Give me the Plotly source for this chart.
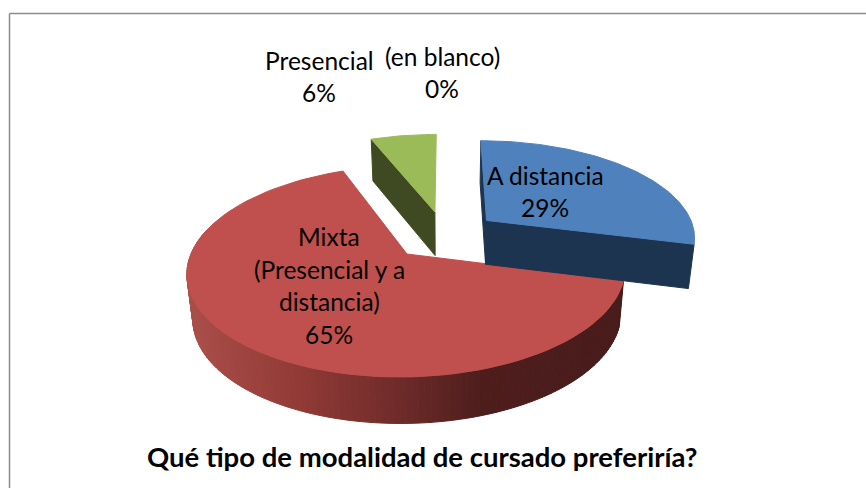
import numpy as np
import plotly.graph_objects as go

categories = ["A distancia", "Mixta (Presencial y a distancia)", "Presencial", "(en blanco)"]
label_lines = [["A distancia", "29%"],
               ["Mixta", "(Presencial y a", "distancia)", "65%"],
               ["Presencial", "6%"],
               ["(en blanco)", "0%"]]
values = [29, 65, 6, 0]
title = "Qué tipo de modalidad de cursado preferiría?"
top_colors = ["#4F81BD", "#C0504D", "#9BBB59", "#8064A2"]
side_colors = ["#1D3450", "#4E1E1C", "#404A22", "#3D2E50"]

# world offsets of each exploded slice (plane units of one radius)
offsets = [(0.203, 0.345), (-0.176, 0.0), (-0.05, 0.438), (0.0, 0.0)]

VX, VY, A, B, P = 445.0, 254.0, 216.0, 102.8, 0.164


def project(X, Y, bottom=False):
    w = 1.0 / (1.0 + P * Y)
    sx = A * X * w
    sy = B * Y * w
    if bottom:
        return VX + 0.977 * sx, VY - sy + (44.5 - 2.0 * Y)
    return VX + sx, VY - sy


def rim(theta, off):
    return off[0] + np.sin(theta), off[1] + np.cos(theta)


def poly(xs, ys, color):
    return go.Scatter(x=list(xs), y=list(ys), mode="lines", fill="toself", fillcolor=color,
                      line=dict(color=color, width=1), hoverinfo="skip", showlegend=False)


total = sum(values)
edges = np.cumsum([0] + values) / total * 2 * np.pi
traces = []
red_stops = [(190, (170, 78, 73)), (300, (145, 58, 54)), (400, (110, 43, 42)),
             (480, (78, 30, 29)), (630, (72, 28, 27))]


def red_rim_color(x):
    xp = [s[0] for s in red_stops]
    rgb = [np.interp(x, xp, [s[1][i] for s in red_stops]) for i in range(3)]
    return "rgb(%d,%d,%d)" % tuple(rgb)


def cut_face(theta, off, color):
    X0, Y0 = off
    X1, Y1 = rim(theta, off)
    pts = [project(X0, Y0), project(X1, Y1), project(X1, Y1, True), project(X0, Y0, True)]
    return poly([p[0] for p in pts] + [pts[0][0]], [p[1] for p in pts] + [pts[0][1]], color)


def top_face(i):
    off = offsets[i]
    th = np.linspace(edges[i], edges[i + 1], 90)
    Xr, Yr = rim(th, off)
    sx, sy = project(Xr, Yr)
    ax, ay = project(*off)
    return poly([ax, *sx, ax], [ay, *sy, ay], top_colors[i])


# Mixta: outer wall in shaded bands, then top
off = offsets[1]
band_edges = np.linspace(edges[1], min(edges[2], np.radians(285)), 130)
for a, b in zip(band_edges[:-1], band_edges[1:]):
    th = np.linspace(a, b, 4)
    Xr, Yr = rim(th, off)
    tx, ty = project(Xr, Yr)
    bx, by = project(Xr, Yr, True)
    xs = list(tx) + list(bx[::-1]) + [tx[0]]
    ys = list(ty) + list(by[::-1]) + [ty[0]]
    traces.append(poly(xs, ys, red_rim_color(float(np.mean(tx)))))
traces.append(top_face(1))

# A distancia: cut faces, top
traces.append(cut_face(edges[0], offsets[0], side_colors[0]))
traces.append(cut_face(edges[1], offsets[0], side_colors[0]))
traces.append(top_face(0))

# Presencial: cut face, top
traces.append(cut_face(edges[2], offsets[2], side_colors[2]))
traces.append(top_face(2))

fig = go.Figure(traces)

font = "Lato"
label_pos = [(545, [175, 207]), (329, [236, 269, 301, 334]), (319, [60, 92]), (442, [56, 88])]
for lines, (cx, ys) in zip(label_lines, label_pos):
    for text, y in zip(lines, ys):
        fig.add_annotation(x=cx, y=y, text=text, showarrow=False, xanchor="center", yanchor="middle",
                           font=dict(family=font, size=24.5, color="#000000"))
fig.add_annotation(x=422, y=456, text="<b>%s</b>" % title, showarrow=False, xanchor="center",
                   yanchor="middle", font=dict(family=font, size=27.5, color="#000000"))

frame = dict(color="#8C8C8C", width=1.5)
fig.update_layout(
    width=866, height=488, margin=dict(l=0, r=0, t=0, b=0),
    paper_bgcolor="white", plot_bgcolor="white", showlegend=False,
    xaxis=dict(range=[0, 866], visible=False, fixedrange=True),
    yaxis=dict(range=[488, 0], visible=False, fixedrange=True),
    shapes=[dict(type="line", x0=9.5, y0=13.5, x1=866, y1=13.5, line=frame, layer="below"),
            dict(type="line", x0=9.5, y0=13.5, x1=9.5, y1=488, line=frame, layer="below")],
)
fig.write_html("out.html", config={"displayModeBar": False},
               post_script="document.body.style.margin='0';document.documentElement.style.overflow='hidden';")
